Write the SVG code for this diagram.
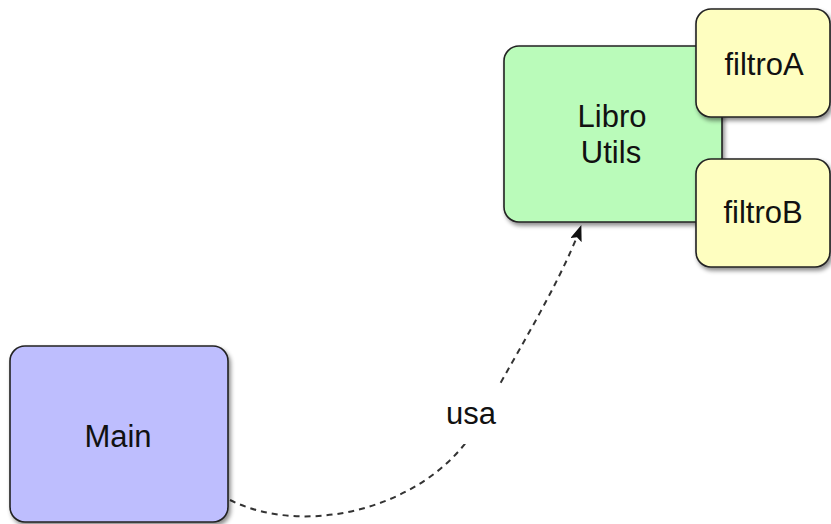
<svg xmlns="http://www.w3.org/2000/svg" width="831" height="524" viewBox="0 0 831 524">
  <defs>
    <filter id="shadow" x="-10%" y="-10%" width="130%" height="130%">
      <feDropShadow dx="2" dy="3" stdDeviation="2" flood-color="#000" flood-opacity="0.45"/>
    </filter>
    <marker id="arrow" viewBox="0 0 16 12" refX="15" refY="6" markerWidth="16" markerHeight="12" markerUnits="userSpaceOnUse" orient="auto">
      <path d="M0,0 L16,6 L0,12 L3,6 Z" fill="#111"/>
    </marker>
  </defs>
  <style>
    .box { stroke: #222; stroke-width: 1.6; filter: url(#shadow); }
    .lib { fill: #bafbba; }
    .filt { fill: #fefec0; }
    .main { fill: #bebefe; }
    .label { font-family: "Liberation Sans", Arial, sans-serif; font-size: 31px; fill: #111; text-anchor: middle; }
    .edge { fill: none; stroke: #333; stroke-width: 2; stroke-dasharray: 6 5; }
  </style>
  <rect width="831" height="524" fill="#fff"/>

  <g id="connectors">
    <path class="edge" d="M230,500 C310,540 440,505 483,415 C505,372 560,285 581,226" marker-end="url(#arrow)"/>
    <rect x="438" y="386" width="66" height="58" fill="#fff"/>
    <text class="label" x="471" y="424">usa</text>
  </g>

  <g id="libro-utils">
    <rect class="box lib" x="504" y="46" width="218" height="176" rx="15"/>
    <text class="label" x="612" y="127">Libro</text>
    <text class="label" x="611" y="163">Utils</text>
  </g>

  <g id="filtroA">
    <rect class="box filt" x="696" y="9" width="134" height="108" rx="15"/>
    <text class="label" x="764" y="75">filtroA</text>
  </g>

  <g id="filtroB">
    <rect class="box filt" x="696" y="159" width="134" height="108" rx="15"/>
    <text class="label" x="763" y="223">filtroB</text>
  </g>

  <g id="main">
    <rect class="box main" x="10" y="346" width="218" height="176" rx="15"/>
    <text class="label" x="118" y="447">Main</text>
  </g>
</svg>
